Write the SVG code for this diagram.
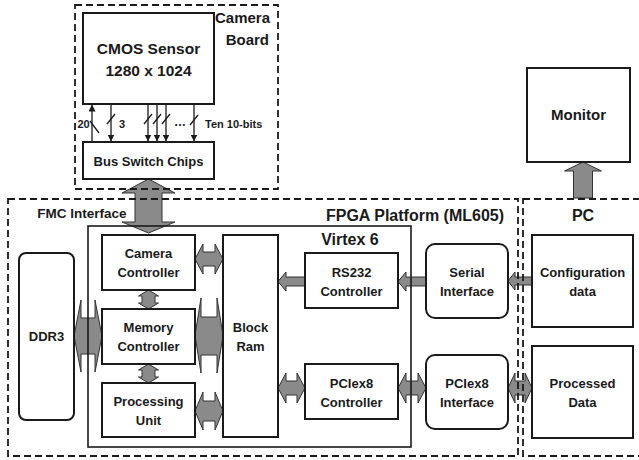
<svg xmlns="http://www.w3.org/2000/svg" width="639" height="460" viewBox="0 0 639 460">
<defs>
<style>
text{font-family:"Liberation Sans",Arial,sans-serif;font-weight:bold;fill:#1a1a1a;text-anchor:middle}
.t13{font-size:13px}
.box{fill:#fff;stroke:#1a1a1a;stroke-width:2}
.dash{fill:none;stroke:#1a1a1a;stroke-width:1.8;stroke-dasharray:7 4}
.ga{fill:#8a8a8a;stroke:#333;stroke-width:1}
.ln{stroke:#1a1a1a;stroke-width:1.3;fill:none}
</style>
<marker id="ah" viewBox="0 0 10 10" refX="10" refY="5" markerWidth="7" markerHeight="7" orient="auto" markerUnits="userSpaceOnUse"><path d="M0,0 L10,5 L0,10 z" fill="#1a1a1a"/></marker>
</defs>
<rect width="639" height="460" fill="#fff"/>

<g id="connectors">
<!-- camera board signal lines -->
<line class="ln" x1="92" y1="142" x2="92" y2="104.5" marker-end="url(#ah)"/>
<line class="ln" x1="111" y1="104" x2="111" y2="141.5" marker-end="url(#ah)"/>
<line class="ln" x1="148" y1="104" x2="148" y2="141.5" marker-end="url(#ah)"/>
<line class="ln" x1="157" y1="104" x2="157" y2="141.5" marker-end="url(#ah)"/>
<line class="ln" x1="166" y1="104" x2="166" y2="141.5" marker-end="url(#ah)"/>
<line class="ln" x1="194" y1="104" x2="194" y2="141.5" marker-end="url(#ah)"/>
<path class="ln" d="M90,121 L99,133 M107,124 L115,114 M144,124 L152,114 M153,124 L161,114 M162,124 L170,114 M190,125 L198,115"/>
<!-- gray block arrows -->
<polygon class="ga" points="148.5,179 175,193 162,193 162,222 175,222 148.5,233 122,222 135,222 135,193 122,193"/>
<polygon class="ga" points="583,162 601.5,171 592.5,171 592.5,198 573.5,198 573.5,171 564.5,171"/>
<polygon class="ga" points="195,259 203,244 203,252 215,252 215,244 223,259 215,274 215,266 203,266 203,274"/>
<polygon class="ga" points="195,335.5 201,298 201,317 217,317 217,298 223,335.5 217,373 217,355 201,355 201,373"/>
<polygon class="ga" points="74,336 81,300 81,318 95,318 95,300 102,336 95,372 95,354 81,354 81,372"/>
<polygon class="ga" points="195,411 203,392 203,401 215,401 215,392 223,411 215,430 215,421 203,421 203,430"/>
<polygon class="ga" points="148.5,290 158.5,296 155,296 155,303 158.5,303 148.5,309 138.5,303 142,303 142,296 138.5,296"/>
<polygon class="ga" points="148.5,364 158.5,370 155,370 155,377 158.5,377 148.5,383 138.5,377 142,377 142,370 138.5,370"/>
<polygon class="ga" points="278,281.5 286,272 286,277 305,277 305,286 286,286 286,291"/>
<polygon class="ga" points="398,281.5 406,272 406,277 426,277 426,286 406,286 406,291"/>
<polygon class="ga" points="508,281 515,272 515,277 532,277 532,285 515,285 515,290"/>
<polygon class="ga" points="278,388 286,373 286,381 297,381 297,373 305,388 297,403 297,395 286,395 286,403"/>
<polygon class="ga" points="398,388 406,373 406,381 418,381 418,373 426,388 418,403 418,395 406,395 406,403"/>
<polygon class="ga" points="508,388 515,373 515,381 525,381 525,373 532,388 525,403 525,395 515,395 515,403"/>
</g>

<g id="camera-board">
<rect class="dash" x="75" y="5" width="203" height="184"/>
<text x="270" y="23" font-size="15" style="text-anchor:end">Camera</text>
<text x="269" y="45" font-size="15" style="text-anchor:end">Board</text>
</g>
<g id="fpga-platform">
<rect class="dash" x="8" y="199" width="510" height="257"/>
<text x="415" y="221" font-size="16">FPGA Platform (ML605)</text>
<text x="82" y="218" font-size="13.5">FMC Interface</text>
</g>
<g id="pc">
<rect class="dash" x="523" y="199" width="125" height="257"/>
<text x="583" y="221" font-size="16">PC</text>
</g>
<g id="virtex6">
<rect x="88" y="226" width="323" height="221" fill="none" stroke="#1a1a1a" stroke-width="1.6"/>
<text x="350" y="245" font-size="16">Virtex 6</text>
</g>

<g id="cmos-sensor">
<rect class="box" x="83" y="13" width="131" height="91"/>
<text x="148.5" y="54" font-size="15.5">CMOS Sensor</text>
<text x="148.5" y="76" font-size="15.5">1280 x 1024</text>
</g>
<g id="labels">
<text x="83.5" y="128" font-size="11">20</text>
<text x="122" y="128" font-size="11">3</text>
<text x="180" y="126" font-size="12">…</text>
<text x="205" y="128" font-size="11" style="text-anchor:start">Ten 10-bits</text>
</g>
<g id="bus-switch">
<rect class="box" x="83" y="142" width="131" height="37"/>
<text x="148.5" y="165.5" font-size="13">Bus Switch Chips</text>
</g>
<g id="monitor">
<rect class="box" x="527" y="68" width="103" height="94"/>
<text x="578.5" y="120" font-size="15">Monitor</text>
</g>
<g id="ddr3">
<rect class="box" x="19" y="253" width="55" height="167" rx="7"/>
<text class="t13" x="46.5" y="341">DDR3</text>
</g>
<g id="camera-controller">
<rect class="box" x="102" y="235" width="93" height="55"/>
<text class="t13" x="148.5" y="258">Camera</text>
<text class="t13" x="148.5" y="277">Controller</text>
</g>
<g id="memory-controller">
<rect class="box" x="102" y="309" width="93" height="55"/>
<text class="t13" x="148.5" y="332">Memory</text>
<text class="t13" x="148.5" y="351">Controller</text>
</g>
<g id="processing-unit">
<rect class="box" x="102" y="383" width="93" height="54"/>
<text class="t13" x="148.5" y="406">Processing</text>
<text class="t13" x="148.5" y="425">Unit</text>
</g>
<g id="block-ram">
<rect class="box" x="223" y="235" width="55" height="202"/>
<text class="t13" x="250.5" y="332">Block</text>
<text class="t13" x="250.5" y="351">Ram</text>
</g>
<g id="rs232-controller">
<rect class="box" x="305" y="253" width="93" height="55"/>
<text class="t13" x="351.5" y="276.5">RS232</text>
<text class="t13" x="351.5" y="295.5">Controller</text>
</g>
<g id="pciex8-controller">
<rect class="box" x="305" y="364" width="93" height="55"/>
<text class="t13" x="351.5" y="387.5">PCIex8</text>
<text class="t13" x="351.5" y="406.5">Controller</text>
</g>
<g id="serial-interface">
<rect class="box" x="426" y="244" width="82" height="74" rx="9"/>
<text class="t13" x="467" y="276.5">Serial</text>
<text class="t13" x="467" y="295.5">Interface</text>
</g>
<g id="pciex8-interface">
<rect class="box" x="426" y="355" width="82" height="74" rx="9"/>
<text class="t13" x="467" y="387.5">PCIex8</text>
<text class="t13" x="467" y="406.5">Interface</text>
</g>
<g id="configuration-data">
<rect class="box" x="532" y="235" width="101" height="92"/>
<text class="t13" x="582.5" y="276.5">Configuration</text>
<text class="t13" x="582.5" y="295.5">data</text>
</g>
<g id="processed-data">
<rect class="box" x="532" y="346" width="101" height="92"/>
<text class="t13" x="582.5" y="387.5">Processed</text>
<text class="t13" x="582.5" y="406.5">Data</text>
</g>
</svg>
